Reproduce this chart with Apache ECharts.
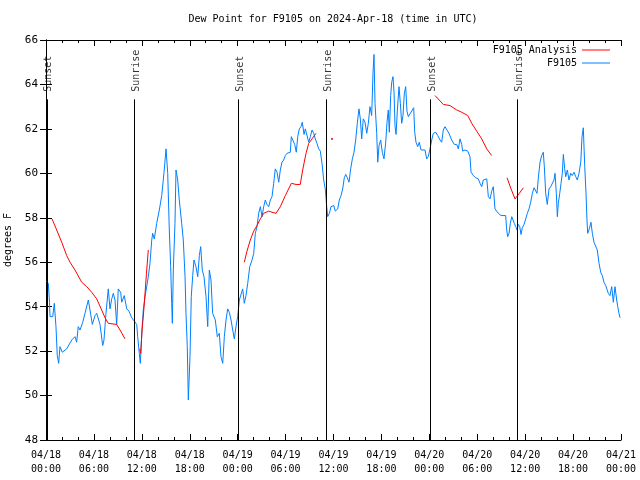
<!DOCTYPE html>
<html>
<head>
<meta charset="utf-8">
<script src="https://cdn.jsdelivr.net/npm/echarts@6/dist/echarts.min.js"></script>
<style>html,body{margin:0;padding:0;background:#fff;}#c{width:640px;height:480px;}</style>
</head>
<body>
<div id="c"></div>
<script>
// hours since 2024-04-18 00:00 UTC
const obsHours = [0.06,0.29,0.44,0.50,0.84,1.04,1.25,1.41,1.59,1.75,2.04,2.59,3.22,3.63,3.84,4.04,4.26,4.60,4.88,5.30,5.51,5.80,6.14,6.35,6.76,7.10,7.26,7.51,7.80,8.01,8.23,8.43,8.64,8.85,9.05,9.35,9.48,9.80,10.11,10.39,10.73,11.06,11.36,11.48,11.68,11.81,12.02,12.18,12.40,12.61,12.81,13.02,13.24,13.36,13.56,13.86,14.19,14.49,14.78,15.03,15.24,15.44,15.61,15.74,15.82,15.94,16.15,16.28,16.49,16.69,16.99,17.19,17.41,17.53,17.69,17.82,18.03,18.19,18.37,18.53,18.78,19.00,19.20,19.37,19.57,19.78,20.04,20.25,20.45,20.66,20.87,21.20,21.45,21.70,21.91,22.13,22.33,22.54,22.75,22.95,23.17,23.38,23.58,23.79,24.00,24.21,24.42,24.63,24.83,25.04,25.26,25.51,25.80,26.01,26.21,26.42,26.63,26.84,27.05,27.26,27.46,27.67,27.89,28.09,28.30,28.51,28.71,28.93,29.14,29.34,29.55,29.76,29.97,30.18,30.59,30.72,30.93,31.14,31.34,31.52,31.72,31.93,32.09,32.31,32.47,32.68,32.90,33.10,33.31,33.52,33.72,33.93,34.15,34.35,34.56,34.77,34.97,35.15,35.27,35.48,35.69,36.03,36.23,36.53,36.73,36.94,37.15,37.35,37.53,37.73,37.94,38.15,38.36,38.57,38.78,38.98,39.19,39.36,39.53,39.73,39.95,40.16,40.36,40.57,40.78,40.95,41.07,41.20,41.41,41.54,41.70,41.91,42.11,42.32,42.54,42.70,42.86,42.99,43.16,43.29,43.45,43.58,43.70,43.83,43.99,44.20,44.37,44.54,44.70,44.87,45.04,45.20,45.37,45.62,45.87,46.04,46.17,46.33,46.54,46.74,46.96,47.46,47.67,47.87,48.08,48.30,48.50,48.80,49.05,49.34,49.55,49.75,49.96,50.18,50.46,50.80,51.13,51.43,51.63,51.84,52.05,52.18,52.47,52.81,53.09,53.22,53.51,53.81,54.13,54.35,54.56,54.76,55.19,55.39,55.60,55.81,56.01,56.22,56.44,56.64,56.98,57.56,57.69,57.81,57.98,58.14,58.32,58.48,58.64,58.82,58.98,59.14,59.32,59.48,59.64,59.86,60.07,60.27,60.48,60.69,60.90,61.11,61.32,61.48,61.65,61.86,62.07,62.27,62.40,62.57,62.77,62.99,63.20,63.40,63.61,63.74,63.90,64.03,64.15,64.33,64.49,64.65,64.78,64.95,65.08,65.28,65.49,65.70,65.90,66.12,66.33,66.53,66.74,66.96,67.12,67.28,67.46,67.62,67.74,67.83,68.03,68.24,68.41,68.62,68.83,69.03,69.25,69.46,69.66,69.87,70.09,70.29,70.41,70.62,70.84,71.04,71.25,71.46,71.59,71.75,71.88];
const obsDew = [55.15,55.05,54.2,53.55,53.55,54.15,53.1,51.8,51.45,52.2,51.95,52.1,52.5,52.65,52.4,53.1,52.95,53.3,53.7,54.3,53.85,53.2,53.6,53.7,53.2,52.25,52.5,53.7,54.8,53.9,54.35,54.6,54.3,53.2,54.8,54.65,54.2,54.5,53.9,53.8,53.5,53.35,53.2,52.65,51.9,51.45,52.95,53.85,54.45,54.9,55.35,55.95,57.0,57.3,57.05,57.75,58.35,59.0,60.05,61.1,60.0,57.45,55.8,54.15,53.25,55.65,57.75,60.15,59.7,58.8,57.75,57.0,55.35,53.7,52.2,49.8,51.75,54.45,55.4,56.1,55.8,55.35,56.3,56.7,55.65,55.35,54.45,53.1,55.65,55.2,53.7,53.4,52.65,52.8,51.75,51.45,52.65,53.4,53.9,53.75,53.4,52.95,52.55,53.1,53.55,54.3,54.3,54.8,54.15,54.5,55.05,55.8,56.1,56.4,57.3,57.6,58.2,58.5,58.05,58.5,58.8,58.6,58.5,58.8,58.95,59.55,60.2,60.05,59.6,60.15,60.5,60.6,60.8,60.9,60.95,61.65,61.6,61.3,60.95,61.65,62.0,62.1,62.3,61.75,62.0,61.95,61.4,61.65,61.95,61.8,61.55,61.35,61.1,61.0,60.45,59.7,59.3,58.5,58.05,58.2,58.5,58.55,58.3,58.4,58.8,59.0,59.3,59.8,59.95,59.8,59.6,60.2,60.65,60.95,61.5,62.25,62.9,62.45,61.55,62.45,62.3,61.8,62.25,63.0,62.6,64.55,65.35,63.15,61.8,60.5,61.25,61.5,60.95,60.65,61.4,62.3,62.85,61.85,63.5,64.1,64.35,63.65,62.15,61.75,62.8,63.9,63.15,62.25,62.6,63.6,63.9,62.8,62.55,62.55,62.85,62.95,61.85,61.4,61.2,61.4,61.05,61.05,60.65,60.75,61.1,61.5,61.8,61.85,61.7,61.5,61.4,61.95,62.1,62.15,61.8,61.5,61.3,61.3,61.1,61.55,61.3,61.0,61.05,61.0,60.75,60.05,59.9,59.8,59.75,59.55,59.4,59.7,59.75,58.95,58.85,59.2,59.4,58.4,58.35,58.2,58.1,58.1,57.45,57.15,57.3,57.75,58.05,57.9,57.75,57.6,57.45,57.7,57.6,57.25,57.55,57.7,57.95,58.2,58.4,58.7,59.1,59.35,59.35,59.1,59.8,60.5,60.8,60.95,60.3,59.1,58.6,59.3,59.4,59.4,59.7,60.0,59.1,58.05,58.65,59.1,59.55,60.0,60.85,60.2,59.85,60.15,59.7,60.0,59.9,60.05,59.85,59.7,60.0,60.5,61.65,62.05,60.3,59.1,57.9,57.3,57.5,57.8,57.3,56.9,56.85,56.55,55.95,55.55,55.4,55.1,54.95,54.95,54.6,54.5,54.9,54.2,54.9,54.3,54.0,53.7,53.5];

// analysis: null marks a gap between segments
const anaHours = [0.75,1.34,1.97,2.59,3.01,3.63,4.47,5.10,5.72,6.35,6.97,7.39,7.80,8.85,9.27,9.89,null,
  11.73,11.86,12.02,12.27,12.58,12.81,null,
  24.83,25.17,25.58,26.01,26.42,26.84,27.26,27.89,28.30,28.80,29.34,29.97,30.72,31.31,31.84,32.14,32.56,32.90,33.31,33.81,null,
  48.71,49.75,50.59,51.43,52.05,52.81,53.31,53.93,54.56,55.19,55.81,null,
  57.73,58.23,58.73,59.27,59.77];
const anaDew = [57.95,57.45,56.9,56.3,56.0,55.65,55.1,54.9,54.65,54.35,53.85,53.5,53.25,53.2,52.95,52.55,null,
  52.1,51.9,52.9,53.95,55.5,56.55,null,
  56.0,56.5,57.0,57.4,57.65,57.95,58.2,58.3,58.25,58.2,58.5,59.0,59.55,59.5,59.5,60.15,60.9,61.35,61.55,61.8,null,
  63.5,63.1,63.05,62.85,62.75,62.6,62.25,61.9,61.55,61.1,60.8,null,
  59.8,59.3,58.85,59.1,59.35];
const anaLoneHour = [35.81];
const anaLoneDew = [61.55];

const sunHours = [0.1, 11.05, 24.08, 35.12, 48.15, 59.0];
const sunNames = ['Sunset','Sunrise','Sunset','Sunrise','Sunset','Sunrise'];

const tickDates = ['04/18','04/18','04/18','04/18','04/19','04/19','04/19','04/19','04/20','04/20','04/20','04/20','04/21'];
const tickTimes = ['00:00','06:00','12:00','18:00','00:00','06:00','12:00','18:00','00:00','06:00','12:00','18:00','00:00'];

const FONT = 'DejaVu Sans Mono';
const SUN_TOP = 63.33;

const obsData = obsHours.map((h, i) => [h, obsDew[i]]);
const anaData = anaHours.map((h, i) => h === null ? [anaHours[i-1] + 0.01, '-'] : [h, anaDew[i]]);
const loneData = anaLoneHour.map((h, i) => [h, anaLoneDew[i]]);

const markLines = sunHours.map(h => [{coord: [h, SUN_TOP]}, {coord: [h, 48]}]);
const sunLabelData = sunHours.map((h, i) => ({value: [h, SUN_TOP], name: sunNames[i]}));

const chart = echarts.init(document.getElementById('c'), null, {renderer: 'canvas'});
const axisCommon = {
  type: 'value', min: 0, max: 72, interval: 6,
  axisLine: {show: true, lineStyle: {color: '#000', width: 1}},
  axisTick: {show: true, inside: true, length: 6, lineStyle: {color: '#000'}},
  minorTick: {show: true, splitNumber: 3, length: 3, lineStyle: {color: '#000'}},
  splitLine: {show: false}
};
chart.setOption({
  animation: false,
  backgroundColor: '#fff',
  title: {
    text: 'Dew Point for F9105 on 2024-Apr-18 (time in UTC)',
    left: 333, top: 14, textAlign: 'center', padding: 0,
    textStyle: {fontFamily: FONT, fontSize: 10, fontWeight: 'normal', color: '#000'}
  },
  legend: {
    data: ['F9105 Analysis', 'F9105'],
    orient: 'vertical', right: 30, top: 44, align: 'right', padding: 0,
    icon: 'rect', itemWidth: 28, itemHeight: 1, itemGap: 1,
    textStyle: {fontFamily: FONT, fontSize: 10, lineHeight: 12, color: '#000'},
    selectedMode: false
  },
  grid: {left: 46, right: 19, top: 40, bottom: 40, outerBoundsMode: 'none', containLabel: false},
  xAxis: [
    Object.assign({}, axisCommon, {
      position: 'bottom',
      axisLabel: {
        fontFamily: FONT, fontSize: 10, color: '#000', margin: 8, lineHeight: 14,
        formatter: v => { const k = Math.round(v / 6); return tickDates[k] + '\n' + tickTimes[k]; }
      }
    }),
    Object.assign({}, axisCommon, {position: 'top', axisLabel: {show: false}})
  ],
  yAxis: [
    {
      type: 'value', min: 48, max: 66, interval: 2, position: 'left',
      name: 'degrees F', nameLocation: 'middle', nameGap: 30, nameRotate: 90,
      nameTextStyle: {fontFamily: FONT, fontSize: 10, color: '#000'},
      axisLine: {show: true, lineStyle: {color: '#000'}},
      axisTick: {show: true, inside: true, length: 6, lineStyle: {color: '#000'}},
      axisLabel: {fontFamily: FONT, fontSize: 11, color: '#000', margin: 8},
      splitLine: {show: false}
    },
    {
      type: 'value', min: 48, max: 66, interval: 2, position: 'right',
      axisLine: {show: true, lineStyle: {color: '#000'}},
      axisTick: {show: true, inside: true, length: 6, lineStyle: {color: '#000'}},
      axisLabel: {show: false}, splitLine: {show: false}
    }
  ],
  series: [
    {
      name: 'F9105 Analysis', type: 'line', data: anaData, showSymbol: false,
      connectNulls: false, color: '#ff0000', lineStyle: {width: 1, color: '#ff0000'}, z: 3
    },
    {
      name: 'F9105', type: 'line', data: obsData, showSymbol: false,
      color: '#0080ff', lineStyle: {width: 1, color: '#0080ff'}, z: 2,
      markLine: {
        silent: true, symbol: 'none', animation: false,
        lineStyle: {color: '#000', width: 1, type: 'solid'},
        label: {show: false}, data: markLines
      }
    },
    {
      name: 'lone', type: 'scatter', data: loneData, symbol: 'rect', symbolSize: 2,
      itemStyle: {color: '#ff0000'}, z: 3
    },
    {
      name: 'sun', type: 'scatter', data: sunLabelData, symbolSize: 1,
      itemStyle: {color: 'rgba(0,0,0,0)'},
      label: {
        show: true, position: 'top', distance: 7, rotate: 90,
        align: 'left', verticalAlign: 'middle', offset: [0, 2],
        fontFamily: FONT, fontSize: 10, color: '#000',
        formatter: p => p.name
      }, z: 4
    }
  ]
});
</script>
</body>
</html>
